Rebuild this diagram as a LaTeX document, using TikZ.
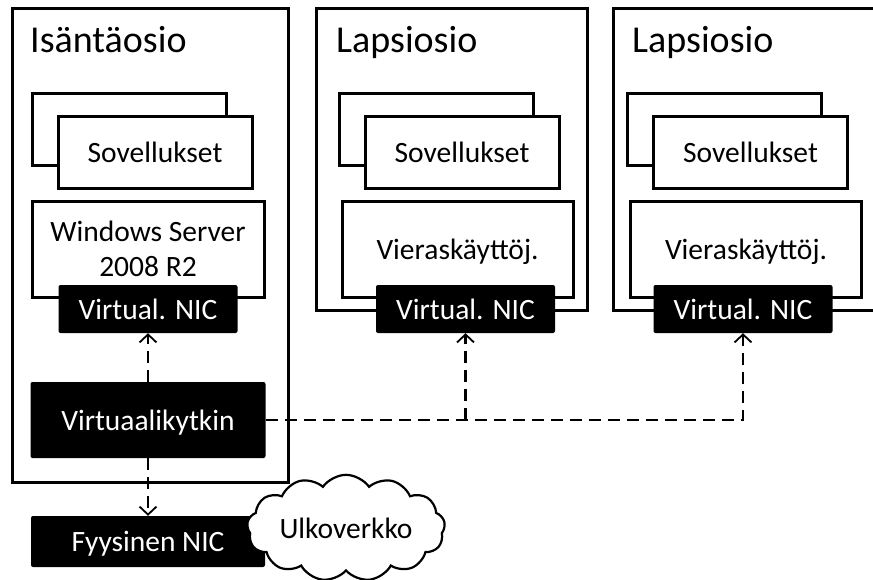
\documentclass[tikz,border=0pt]{standalone}
\usepackage{fontspec}
\setmainfont{Carlito}
\usetikzlibrary{arrows.meta, shapes.symbols}

\begin{document}
\begin{tikzpicture}[
      x = 1pt, y = -1pt, % pixel grid, y grows downwards
      > = {Straight Barb[length = 8pt, width = 17pt, line width = 1.8pt]}, % open arrow head
      font = \fontsize{29.5}{35}\selectfont,
      text depth = 0pt,
    ]

    \tikzstyle{partition}=[
      draw = black,
      line width = 3pt,
      rectangle,
      inner sep = 0pt,
      minimum width = 271pt,
      minimum height = 302pt
    ]
    \tikzstyle{appbox}=[
      draw = black,
      fill = white,
      line width = 3pt,
      minimum width = 194pt,
      minimum height = 72pt
    ]
    \tikzstyle{osbox}=[
      draw = black,
      fill = white,
      line width = 3pt,
      align = center,
      minimum width = 231pt,
      minimum height = 96pt
    ]
    \tikzstyle{blackbox}=[
      fill = black,
      text = white,
      rounded corners = 2pt,
      minimum width = 179pt,
      minimum height = 48pt
    ]
    \tikzstyle{title}=[
      anchor = base west,
      inner sep = 0pt,
      font = \fontsize{38}{42}\selectfont
    ]
    \tikzstyle{link}=[
      dashed,
      dash pattern = on 12pt off 7pt,
      line width = 2.2pt
    ]

    \useasboundingbox (0, 0) rectangle (873, 579);
    \fill[white] (0, 0) rectangle (873, 579);

    % host partition
    \node[partition, minimum width = 276pt, minimum height = 474pt] (host) [at={(150, 245)}] {};
    \node[title] (hosttitle) [at={(30, 52)}] {Isäntäosio};
    \node[appbox] (happsb) [at={(129, 129)}] {};
    \node[appbox] (happs) [at={(155, 152)}] {Sovellukset};
    \node[osbox, minimum width = 232pt] (hos) [at={(148, 249)}] {Windows Server\\2008 R2};
    \node[blackbox] (hnic) [at={(148, 309)}] {Virtual. NIC};
    \node[blackbox, minimum width = 235pt, minimum height = 76pt] (vswitch) [at={(148, 420)}] {Virtuaalikytkin};
    \node[blackbox, minimum width = 234pt, minimum height = 51pt] (pnic) [at={(148, 541.5)}] {Fyysinen NIC};

    % child partitions
    \node[partition] (childa) [at={(451.5, 159)}] {};
    \node[title] (childatitle) [at={(336, 52)}] {Lapsiosio};
    \node[appbox] (cappsab) [at={(436, 129)}] {};
    \node[appbox] (cappsa) [at={(462, 152)}] {Sovellukset};
    \node[osbox] (cosa) [at={(457.5, 249)}] {Vieraskäyttöj.};
    \node[blackbox] (cnica) [at={(465.5, 309)}] {Virtual. NIC};

    \node[partition] (childb) [at={(748.5, 159)}] {};
    \node[title] (childbtitle) [at={(632, 52)}] {Lapsiosio};
    \node[appbox] (cappsbb) [at={(724.5, 129)}] {};
    \node[appbox] (cappsb) [at={(750.5, 152)}] {Sovellukset};
    \node[osbox] (cosb) [at={(746, 249)}] {Vieraskäyttöj.};
    \node[blackbox] (cnicb) [at={(743, 309)}] {Virtual. NIC};

    % connections
    \coordinate (fork) at (cnica.south |- vswitch.east);
    \draw[link, ->] (vswitch) -- (hnic);
    \draw[link, ->] (vswitch) -- (pnic);
    \draw[link, ->] (vswitch.east) -| (cnicb.south);
    \draw[link, ->] (fork) -- (cnica.south);

    \node[cloud, draw = black, fill = white, line width = 2.2pt, cloud puffs = 13, cloud puff arc = 110,
      aspect = 2.2, minimum width = 198pt, minimum height = 88pt, inner sep = 0pt] (outnet) [at={(346, 528)}] {Ulkoverkko};

  \end{tikzpicture}
\end{document}
